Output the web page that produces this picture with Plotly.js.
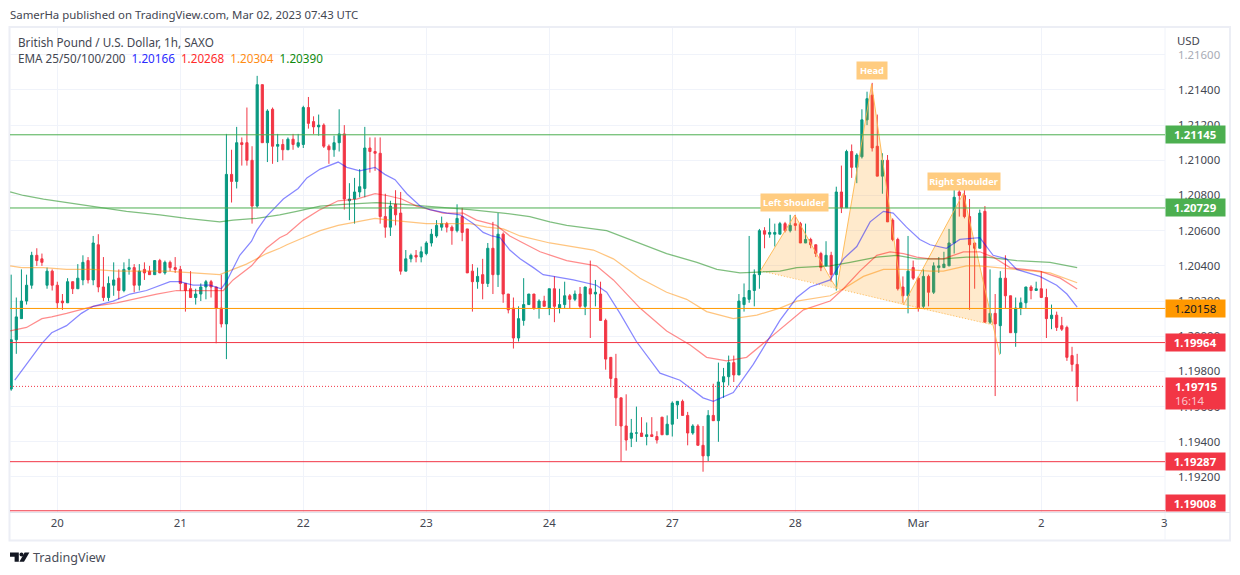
<!DOCTYPE html>
<html><head><meta charset="utf-8">
<script src="https://cdn.plot.ly/plotly-3.0.1.min.js"></script>
<style>html,body{margin:0;padding:0;background:#fff}#c{width:1240px;height:575px}</style>
</head><body><div id="c"></div>
<script>
const FONT='"Noto Sans", sans-serif';
const SIZE=11.4;
const LEGEND_SIZE=11.7;
// hourly candles; first candle sits 9 hours before the "20" tick
const firstHour=-9;
const open=[1.1970,1.1998,1.2010,1.2020,1.2029,1.2046,1.2044,1.2029,1.2037,1.2029,
1.2020,1.2019,1.2031,1.2027,1.2032,1.2043,1.2032,1.2052,1.2028,1.2022,
1.2029,1.2033,1.2026,1.2038,1.2039,1.2029,1.2038,1.2037,1.2035,1.2043,
1.2036,1.2042,1.2039,1.2038,1.2030,1.2027,1.2022,1.2024,1.2028,1.2031,
1.2028,1.2016,1.2007,1.2092,1.2088,1.2110,1.2110,1.2100,1.2074,1.2143,
1.2110,1.2129,1.2108,1.2109,1.2106,1.2112,1.2108,1.2109,1.2130,1.2122,
1.2119,1.2120,1.2108,1.2106,1.2110,1.2115,1.2077,1.2078,1.2082,1.2084,
1.2107,1.2105,1.2104,1.2068,1.2062,1.2075,1.2070,1.2037,1.2044,1.2046,
1.2045,1.2047,1.2053,1.2057,1.2062,1.2064,1.2062,1.2060,1.2068,1.2061,
1.2037,1.2031,1.2035,1.2030,1.2050,1.2035,1.2058,1.2024,1.2016,1.1999,
1.2009,1.2018,1.2024,1.2016,1.2020,1.2016,1.2027,1.2016,1.2018,1.2023,
1.2021,1.2024,1.2017,1.2027,1.2024,1.2024,1.2009,1.1988,1.1976,1.1965,
1.1949,1.1942,1.1945,1.1945,1.1943,1.1944,1.1943,1.1954,1.1944,1.1950,
1.1961,1.1963,1.1955,1.1945,1.1949,1.1938,1.1932,1.1955,1.1952,1.1974,
1.1977,1.1985,1.1978,1.2018,1.2021,1.2026,1.2035,1.2060,1.2058,1.2058,
1.2058,1.2064,1.2060,1.2064,1.2064,1.2053,1.2055,1.2052,1.2047,1.2040,
1.2046,1.2035,1.2082,1.2073,1.2105,1.2096,1.2102,1.2123,1.2137,1.2108,
1.2091,1.2100,1.2066,1.2055,1.2028,1.2023,1.2039,1.2033,1.2017,1.2034,
1.2025,1.2039,1.2039,1.2040,1.2053,1.2082,1.2080,1.2068,1.2053,1.2050,
1.2071,1.2008,1.2013,1.2006,1.2033,1.2023,1.2002,1.2016,1.2019,1.2028,
1.2026,1.2027,1.2022,1.2010,1.2012,1.2006,1.2005,1.1989,1.1984];
const high=[1.2035,1.2022,1.2038,1.2035,1.2048,1.2050,1.2047,1.2039,1.2038,1.2031,
1.2024,1.2033,1.2031,1.2041,1.2046,1.2045,1.2057,1.2058,1.2045,1.2034,
1.2042,1.2038,1.2042,1.2044,1.2041,1.2041,1.2042,1.2040,1.2043,1.2044,
1.2043,1.2043,1.2045,1.2040,1.2030,1.2037,1.2027,1.2030,1.2032,1.2032,
1.2028,1.2035,1.2115,1.2106,1.2119,1.2113,1.2130,1.2108,1.2148,1.2143,
1.2129,1.2130,1.2115,1.2112,1.2113,1.2115,1.2115,1.2131,1.2136,1.2125,
1.2126,1.2121,1.2109,1.2114,1.2129,1.2120,1.2087,1.2090,1.2095,1.2119,
1.2113,1.2113,1.2113,1.2081,1.2077,1.2083,1.2082,1.2049,1.2047,1.2049,
1.2051,1.2054,1.2061,1.2066,1.2068,1.2065,1.2063,1.2075,1.2073,1.2061,
1.2041,1.2039,1.2044,1.2053,1.2065,1.2070,1.2059,1.2024,1.2022,1.2017,
1.2033,1.2024,1.2024,1.2021,1.2023,1.2027,1.2034,1.2027,1.2031,1.2024,
1.2026,1.2028,1.2028,1.2043,1.2032,1.2031,1.2010,1.1988,1.1990,1.1965,
1.1967,1.1953,1.1960,1.1954,1.1951,1.1954,1.1946,1.1954,1.1955,1.1963,
1.1963,1.1964,1.1957,1.1950,1.1950,1.1949,1.1958,1.1973,1.1985,1.1982,
1.1989,1.1989,1.2024,1.2030,1.2057,1.2038,1.2061,1.2062,1.2067,1.2064,
1.2065,1.2065,1.2069,1.2069,1.2065,1.2064,1.2056,1.2052,1.2048,1.2054,
1.2048,1.2085,1.2097,1.2106,1.2109,1.2104,1.2129,1.2139,1.2144,1.2126,
1.2104,1.2103,1.2067,1.2056,1.2034,1.2057,1.2043,1.2034,1.2038,1.2035,
1.2042,1.2045,1.2048,1.2061,1.2087,1.2089,1.2089,1.2078,1.2053,1.2072,
1.2074,1.2038,1.2024,1.2037,1.2046,1.2023,1.2022,1.2022,1.2028,1.2029,
1.2031,1.2037,1.2027,1.2018,1.2014,1.2011,1.2006,1.1994,1.1990];
const low=[1.1969,1.1990,1.2010,1.2018,1.2027,1.2040,1.2040,1.2027,1.2026,1.2016,
1.2015,1.2019,1.2024,1.2027,1.2029,1.2030,1.2029,1.2025,1.2020,1.2020,
1.2023,1.2021,1.2025,1.2035,1.2025,1.2026,1.2032,1.2035,1.2035,1.2036,
1.2035,1.2037,1.2036,1.2026,1.2014,1.2022,1.2018,1.2020,1.2021,1.2022,
1.1996,1.2005,1.1987,1.2076,1.2084,1.2097,1.2097,1.2064,1.2073,1.2110,
1.2099,1.2098,1.2099,1.2100,1.2106,1.2106,1.2107,1.2107,1.2118,1.2115,
1.2114,1.2107,1.2098,1.2102,1.2105,1.2072,1.2066,1.2064,1.2079,1.2079,
1.2093,1.2094,1.2064,1.2056,1.2057,1.2063,1.2035,1.2037,1.2042,1.2042,
1.2042,1.2046,1.2051,1.2056,1.2060,1.2059,1.2052,1.2059,1.2054,1.2036,
1.2014,1.2027,1.2021,1.2028,1.2024,1.2028,1.2019,1.2013,1.1993,1.1997,
1.2006,1.2018,1.2015,1.2010,1.2017,1.2012,1.2008,1.2013,1.2016,1.2016,
1.2020,1.2016,1.2012,1.1999,1.2017,1.2009,1.1981,1.1971,1.1949,1.1929,
1.1935,1.1937,1.1940,1.1943,1.1938,1.1943,1.1939,1.1944,1.1944,1.1943,
1.1953,1.1955,1.1938,1.1944,1.1938,1.1923,1.1929,1.1952,1.1940,1.1965,
1.1972,1.1974,1.1978,1.2014,1.2019,1.2017,1.2027,1.2050,1.2056,1.2051,
1.2058,1.2059,1.2059,1.2060,1.2053,1.2053,1.2050,1.2045,1.2037,1.2040,
1.2031,1.2026,1.2070,1.2073,1.2090,1.2087,1.2101,1.2120,1.2105,1.2091,
1.2081,1.2065,1.2054,1.2026,1.2019,1.2013,1.2032,1.2014,1.2016,1.2017,
1.2024,1.2036,1.2039,1.2040,1.2047,1.2068,1.2067,1.2015,1.2027,1.2050,
1.2008,1.2007,1.1966,1.1990,1.2016,1.2002,1.1994,1.2012,1.2016,1.2021,
1.2026,1.2022,1.1999,1.2004,1.2003,1.2003,1.1986,1.1980,1.1963];
const close=[1.1998,1.2011,1.2020,1.2029,1.2046,1.2043,1.2042,1.2037,1.2029,1.2019,
1.2019,1.2031,1.2027,1.2033,1.2042,1.2032,1.2053,1.2028,1.2022,1.2030,
1.2032,1.2026,1.2038,1.2039,1.2029,1.2037,1.2036,1.2035,1.2043,1.2036,
1.2042,1.2039,1.2038,1.2030,1.2026,1.2022,1.2024,1.2028,1.2031,1.2028,
1.2016,1.2007,1.2092,1.2088,1.2110,1.2109,1.2100,1.2074,1.2143,1.2110,
1.2128,1.2108,1.2109,1.2106,1.2112,1.2109,1.2110,1.2130,1.2121,1.2119,
1.2120,1.2108,1.2106,1.2110,1.2115,1.2078,1.2078,1.2082,1.2085,1.2107,
1.2105,1.2104,1.2068,1.2062,1.2074,1.2069,1.2037,1.2044,1.2046,1.2045,
1.2048,1.2053,1.2058,1.2063,1.2064,1.2062,1.2060,1.2067,1.2059,1.2036,
1.2031,1.2034,1.2030,1.2050,1.2035,1.2058,1.2024,1.2015,1.1999,1.2010,
1.2018,1.2024,1.2016,1.2020,1.2017,1.2027,1.2017,1.2018,1.2023,1.2021,
1.2024,1.2017,1.2028,1.2024,1.2025,1.2009,1.1987,1.1976,1.1965,1.1949,
1.1941,1.1945,1.1945,1.1943,1.1944,1.1943,1.1941,1.1944,1.1950,1.1962,
1.1963,1.1955,1.1945,1.1949,1.1938,1.1932,1.1955,1.1952,1.1974,1.1977,
1.1985,1.1978,1.2020,1.2022,1.2026,1.2035,1.2060,1.2058,1.2059,1.2059,
1.2064,1.2060,1.2063,1.2063,1.2053,1.2055,1.2052,1.2047,1.2039,1.2046,
1.2035,1.2082,1.2073,1.2105,1.2096,1.2103,1.2123,1.2135,1.2107,1.2091,
1.2100,1.2065,1.2055,1.2027,1.2023,1.2037,1.2033,1.2016,1.2034,1.2025,
1.2040,1.2040,1.2041,1.2053,1.2079,1.2080,1.2068,1.2052,1.2050,1.2070,
1.2008,1.2013,1.2007,1.2033,1.2023,1.2002,1.2016,1.2019,1.2028,1.2026,
1.2027,1.2022,1.2010,1.2012,1.2005,1.2004,1.1988,1.1984,1.19715];
const hours=open.map((_,k)=>k+firstHour);

const ema25X=[-8.3,-6,-3,-1.1,1.8,4.7,7,10.9,14.2,17.4,22,23.9,26.5,29.8,32,33,35.6,37.9,38.9,40.8,43.4,44.1,47,48.7,51.3,54.8,56.5,59,62,63.9,65.9,68.2,70.8,72.7,76,78.6,81.2,83.1,84.8,86.4,88.3,90.3,92.9,94.8,96.8,100.7,105.2,107.2,109.8,113,117.6,121.5,126,128,131.9,135.8,141,144.3,146.9,150.8,153.4,156,158.6,161.2,163.1,165.7,168.3,170.3,173.5,176.1,180,182.6,185.2,187.2,191.7,195,197,199];
const ema25=[1.1975,1.1984,1.1996,1.2002,1.2006,1.2013,1.2017,1.2020,1.2024,1.2026,1.2031,1.2031,1.2029,1.2029,1.2027,1.2031,1.2046,1.2054,1.2060,1.2068,1.2076,1.2078,1.2084,1.2090,1.2095,1.2099,1.2096,1.2094,1.2096,1.2092,1.2089,1.2081,1.2074,1.2072,1.2070,1.2069,1.2064,1.2059,1.2057,1.2056,1.2049,1.2044,1.2039,1.2035,1.2034,1.2032,1.2029,1.2025,1.2013,1.1997,1.1979,1.1975,1.1965,1.1963,1.1968,1.1984,1.2009,1.2022,1.2028,1.2032,1.2044,1.2051,1.2065,1.2071,1.2070,1.2062,1.2055,1.2052,1.2050,1.2055,1.2056,1.2046,1.2044,1.2038,1.2034,1.2029,1.2024,1.20166];
const ema50X=[-9.2,-6,-3,-1.1,1.8,4.4,7,11.6,14.8,19.4,23.3,27.8,31.1,32.4,34.3,37.9,40.8,43.4,44.8,48,51.3,54.8,58.4,62,64.3,67.2,70.1,72.7,75.3,79.2,81.8,85.7,88.3,90.9,94.2,99.4,105.2,108.5,113.7,118.9,123.5,126.7,130.6,134.5,137.8,141,145.6,150.8,153.4,156.6,159.9,162.5,165.1,167.7,170.3,172.9,176.8,180,182.6,185.9,191.7,195.7,199];
const ema50=[1.2003,1.2005,1.2010,1.2011,1.2013,1.2015,1.2017,1.2019,1.2021,1.2024,1.2026,1.2026,1.2026,1.2026,1.2032,1.2040,1.2050,1.2056,1.2058,1.2066,1.2072,1.2077,1.2078,1.2081,1.2080,1.2078,1.2074,1.2072,1.2070,1.2070,1.2066,1.2063,1.2057,1.2053,1.2048,1.2043,1.2040,1.2032,1.2016,1.2003,1.1995,1.1988,1.1986,1.1988,1.1996,1.2004,1.2015,1.2020,1.2027,1.2037,1.2046,1.2048,1.2047,1.2045,1.2044,1.2044,1.2048,1.2048,1.2045,1.2039,1.2037,1.2033,1.20268];
const ema100X=[-9.2,-7,-2.7,1.8,7,11.6,16.1,21.3,26.5,31.7,34.3,36.9,38.9,40.8,43.4,44.8,48,51.3,54.8,58.1,62,64.9,68.8,72,76.6,80.5,83.8,87,90.3,96.1,104.6,108.5,113.7,118.9,122.8,126.7,131.9,136.5,141,144.3,150.8,153.4,157.3,161.2,165.1,170.3,172.9,177.4,180,183.3,187.8,193.7,199];
const ema100=[1.2040,1.2039,1.2039,1.2038,1.2038,1.2037,1.2037,1.2037,1.2036,1.2035,1.2038,1.2041,1.2044,1.2047,1.2050,1.2052,1.2056,1.2060,1.2063,1.2065,1.2067,1.2066,1.2065,1.2064,1.2064,1.2064,1.2062,1.2061,1.2057,1.2053,1.2049,1.2044,1.2033,1.2025,1.2021,1.2014,1.2010,1.2012,1.2016,1.2020,1.2023,1.2027,1.2034,1.2038,1.2038,1.2037,1.2037,1.2040,1.2040,1.2039,1.2038,1.2036,1.20304];
const ema200X=[-9.2,-6.6,-2.7,1.8,7,13.5,20,25.2,31.7,34.3,38.9,43.4,46.7,51.3,55.8,62.3,67.5,72,76.6,80.5,87,92.2,96.1,99.4,107.2,113.7,118.9,124.8,128.7,133.2,141,144.3,150.8,154.7,159.9,163.8,167.7,170.3,172.9,177.4,181.3,187.2,193.7,199];
const ema200=[1.2082,1.2080,1.2078,1.2076,1.2074,1.2071,1.2069,1.2067,1.2065,1.2066,1.2067,1.2069,1.2071,1.2074,1.2075,1.2076,1.2075,1.2074,1.2073,1.2072,1.2070,1.2068,1.2065,1.2063,1.2060,1.2053,1.2047,1.2042,1.2038,1.2036,1.2037,1.2039,1.2040,1.2042,1.2045,1.2046,1.2044,1.2044,1.2044,1.2045,1.2045,1.2043,1.2042,1.20390];

const patternX=[137.2,143.9,151.1,152.1,158.9,165.1,176.8,182.6,183.9];
const patternY=[1.20372,1.20689,1.20316,1.20272,1.21433,1.20178,1.20812,1.20064,1.19893];
const patternNames=['Left Shoulder','Head','Right Shoulder'];
const patternNameX=[143.9,159,176.9];
const patternNameY=[1.2076,1.2151,1.20879];
const patternNameW=[67,30,72];

const levels=[1.21145,1.20729,1.20158,1.19964,1.19287,1.19008];
const levelColors=['#4caf50','#4caf50','#ff9800','#f23645','#f23645','#f23645'];
const lastPrice=1.19715;

const priceTicks=[1.192,1.194,1.196,1.198,1.200,1.202,1.204,1.206,1.208,1.210,1.212,1.214,1.216];
const dayTicks=[0,24,48,72,96,120,144,168,192,216];
const dayLabels=['20','21','22','23','24','27','28','Mar','2','3'];

const L=10,R=1165,T=28,B=512;
const px=x=>(x-L)/(R-L), py=y=>(B-y)/(B-T);

const traces=[{type:'candlestick',x:hours,open,high,low,close,
 increasing:{line:{color:'#089981',width:1},fillcolor:'#089981'},
 decreasing:{line:{color:'#f23645',width:1},fillcolor:'#f23645'},
 whiskerwidth:0,hoverinfo:'skip',showlegend:false}];
const fillT=(a)=>({type:'scatter',mode:'lines',x:a.map(i=>patternX[i]),y:a.map(i=>patternY[i]),fill:'toself',
 fillcolor:'rgba(255,152,0,0.2)',line:{width:0},hoverinfo:'skip',showlegend:false});
traces.push(fillT([0,1,2,3]),fillT([3,4,5]),fillT([5,6,7]));
traces.push({type:'scatter',mode:'lines',x:patternX,y:patternY,line:{color:'rgba(255,183,77,0.9)',width:1},hoverinfo:'skip',showlegend:false});
traces.push({type:'scatter',mode:'lines',x:[patternX[0],patternX[7]],y:[patternY[0],patternY[7]],line:{color:'rgba(255,183,77,0.9)',width:1,dash:'1px,2px'},hoverinfo:'skip',showlegend:false});
[[ema200X,ema200,'rgba(0,128,0,0.5)'],[ema100X,ema100,'rgba(255,140,0,0.5)'],[ema50X,ema50,'rgba(255,0,0,0.45)'],[ema25X,ema25,'rgba(0,0,255,0.47)']].forEach(e=>{
 traces.push({type:'scatter',mode:'lines',x:e[0],y:e[1],line:{color:e[2],width:1.25},hoverinfo:'skip',showlegend:false});
});

const shapes=[];
levels.forEach((v,i)=>shapes.push({type:'line',xref:'paper',yref:'y',x0:0,x1:1,y0:v,y1:v,line:{color:levelColors[i],width:1},layer:'above'}));
shapes.push({type:'line',xref:'paper',yref:'y',x0:0,x1:1,y0:lastPrice,y1:lastPrice,line:{color:'#f23645',width:1,dash:'1px,2px'},layer:'above'});
const FR='#eceef5';
shapes.push({type:'rect',xref:'paper',yref:'paper',x0:px(9.5),x1:px(1230),y0:py(27),y1:py(540.5),line:{color:FR,width:2},layer:'below'});
shapes.push({type:'line',xref:'paper',yref:'paper',x0:px(1165),x1:px(1165),y0:py(28),y1:py(540),line:{color:'#f0f3fa',width:1},layer:'below'});
shapes.push({type:'line',xref:'paper',yref:'paper',x0:px(10),x1:px(1230),y0:py(512.5),y1:py(512.5),line:{color:'#e0e3eb',width:1},layer:'below'});
// TradingView logo
const poly=p=>'M'+p.map(q=>px(q[0])+','+py(q[1])).join('L')+'Z';
const logo='#131722';
shapes.push({type:'path',xref:'paper',yref:'paper',path:poly([[10,552.5],[18.8,552.5],[18.8,561.7],[14.6,561.7],[14.6,556.8],[10,556.8]]),fillcolor:logo,line:{width:0},layer:'above'});
shapes.push({type:'path',xref:'paper',yref:'paper',path:poly([[24.6,552.5],[29.4,552.5],[24,561.7],[19.4,561.7]]),fillcolor:logo,line:{width:0},layer:'above'});
shapes.push({type:'circle',xref:'paper',yref:'paper',x0:px(19.5),x1:px(23.5),y0:py(552.5),y1:py(556.5),fillcolor:logo,line:{width:0},layer:'above'});

const txt=(x,y,text,size,color,extra)=>Object.assign({xref:'paper',yref:'paper',x:px(x),y:py(y),xanchor:'left',yanchor:'middle',showarrow:false,text,font:{family:FONT,size,color},align:'left',borderpad:0,borderwidth:0},extra||{});
const ann=[
 txt(10,14.5,'SamerHa published on TradingView.com, Mar 02, 2023 07:43 UTC',SIZE,'#434651'),
 txt(18,42,'British Pound / U.S. Dollar, 1h, SAXO',LEGEND_SIZE,'#434651'),
 txt(18,58,'EMA 25/50/100/200  <span style="color:#2b2bff">1.20166</span>  <span style="color:#ff2b2b">1.20268</span>  <span style="color:#ff8c14">1.20304</span>  <span style="color:#108a10">1.20390</span>',LEGEND_SIZE,'#434651'),
 txt(1176.5,41,'USD',SIZE,'#434651'),
 txt(1177.5,54.7,priceTicks[12].toFixed(5),SIZE,'#a8abb5'),
 txt(33,557.5,'TradingView',12.6,'#4a4d58')
];
levels.forEach((v,i)=>{
 const dark=levelColors[i]==='#ff9800';
 ann.push({xref:'paper',yref:'y',x:px(1195.3),y:v,yshift:i===5?7.5:0,xanchor:'center',yanchor:'middle',showarrow:false,
  text:dark?v.toFixed(5):'<b>'+v.toFixed(5)+'</b>',width:58.5,height:i===5?16:17,bgcolor:levelColors[i],borderpad:0,
  font:{family:FONT,size:SIZE,color:dark?'#131722':'#ffffff'}});
});
ann.push({xref:'paper',yref:'y',x:px(1195.3),y:lastPrice,yshift:-7,xanchor:'center',yanchor:'middle',showarrow:false,
 text:'&nbsp;&nbsp;&nbsp;<b>'+lastPrice.toFixed(5)+'</b><br>&nbsp;&nbsp;&nbsp;<span style="color:#fbc4ca">16:14</span>',align:'left',width:58.5,height:31,bgcolor:'#f23645',borderpad:0,
 font:{family:FONT,size:SIZE,color:'#ffffff'}});
patternNames.forEach((n,i)=>ann.push({xref:'x',yref:'y',x:patternNameX[i],y:patternNameY[i],xanchor:'center',yanchor:'middle',showarrow:false,
 text:'<b>'+n+'</b>',width:patternNameW[i],height:17,bgcolor:'#ffcc80',borderpad:0,font:{family:FONT,size:9.3,color:'#ffffff'}}));

const layout={width:1240,height:575,margin:{l:L,r:1240-R,t:T,b:575-B,pad:0},paper_bgcolor:'#fff',plot_bgcolor:'#fff',showlegend:false,
 xaxis:{type:'linear',range:[-9.23,216.14],tickmode:'array',tickvals:dayTicks,ticktext:dayLabels,showgrid:true,gridcolor:'#f0f3fa',gridwidth:1,zeroline:false,
  showline:false,ticks:'',ticklabelstandoff:3,tickfont:{family:FONT,size:SIZE,color:'#434651'},rangeslider:{visible:false},fixedrange:true,automargin:false},
 yaxis:{side:'right',range:[1.19001,1.21752],tickmode:'array',tickvals:priceTicks,ticktext:priceTicks.map((v,i)=>i===12?'':v.toFixed(5)),showgrid:true,gridcolor:'#f0f3fa',gridwidth:1,zeroline:false,
  showline:false,ticks:'',ticklabelstandoff:12,tickfont:{family:FONT,size:SIZE,color:'#434651'},fixedrange:true,automargin:false},
 boxgap:0.4,shapes,annotations:ann,dragmode:false,hovermode:false};
Plotly.newPlot('c',traces,layout,{displayModeBar:false,staticPlot:true});
</script></body></html>
